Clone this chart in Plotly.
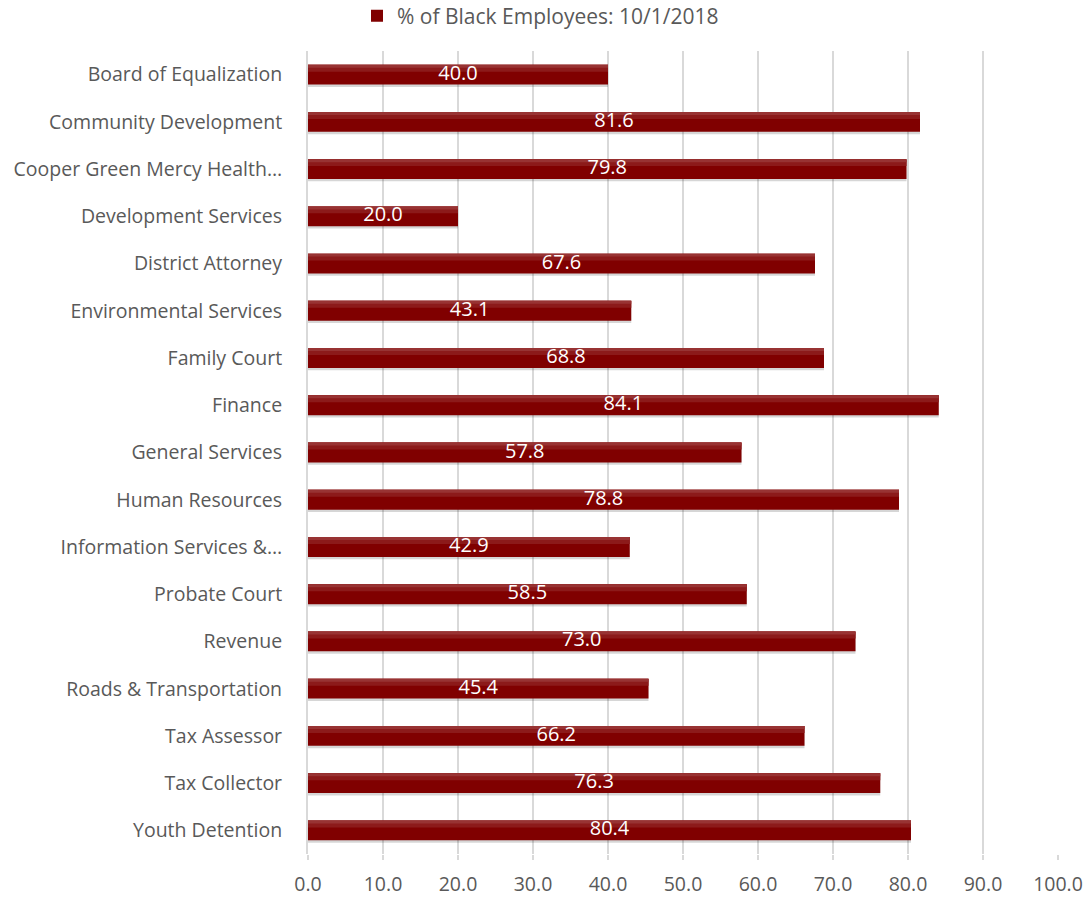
import plotly.graph_objects as go

categories = ["Board of Equalization", "Community Development", "Cooper Green Mercy Health…",
              "Development Services", "District Attorney", "Environmental Services",
              "Family Court", "Finance", "General Services", "Human Resources",
              "Information Services &…", "Probate Court", "Revenue",
              "Roads & Transportation", "Tax Assessor", "Tax Collector", "Youth Detention"]
values = [40.0, 81.6, 79.8, 20.0, 67.6, 43.1, 68.8, 84.1, 57.8, 78.8,
          42.9, 58.5, 73.0, 45.4, 66.2, 76.3, 80.4]
series_name = "% of Black Employees: 10/1/2018"
x_ticks = [0, 10, 20, 30, 40, 50, 60, 70, 80, 90, 100]

FONT = "Open Sans"
GREY = "#595959"
BW = 0.42

fig = go.Figure()
# soft shadow
fig.add_trace(go.Bar(
    y=categories, x=values, orientation="h", showlegend=False, hoverinfo="skip",
    marker=dict(color="rgba(0,0,0,0.16)", line=dict(width=0)),
    width=BW, offset=-BW / 2 + 0.05,
))
# main bar
fig.add_trace(go.Bar(
    y=categories, x=values, orientation="h", name=series_name,
    marker=dict(color="#800000", line=dict(width=0)),
    width=BW, offset=-BW / 2, showlegend=True,
))
# lighter top sheen
fig.add_trace(go.Bar(
    y=categories, x=values, orientation="h", showlegend=False, hoverinfo="skip",
    marker=dict(color="#8c1a1a", line=dict(width=0)),
    width=BW * 0.35, offset=-BW / 2,
))
fig.add_trace(go.Bar(
    y=categories, x=values, orientation="h", showlegend=False, hoverinfo="skip",
    marker=dict(color="#983333", line=dict(width=0)),
    width=BW * 0.15, offset=-BW / 2,
))
# value labels
fig.add_trace(go.Scatter(
    y=categories, x=[v / 2 for v in values], mode="text", showlegend=False,
    text=[f"{v:.1f}" for v in values], textposition="middle center",
    textfont=dict(color="white", size=20, family=FONT), hoverinfo="skip",
))

n = len(categories)
fig.update_layout(
    width=1089, height=897,
    margin=dict(l=308, r=31, t=51, b=43),
    paper_bgcolor="white", plot_bgcolor="white",
    font=dict(family=FONT, color=GREY, size=20),
    showlegend=True,
    barmode="overlay",
    legend=dict(orientation="h", x=0.31, xanchor="center", y=0.982, yanchor="middle",
                yref="container", font=dict(size=21, color=GREY, family=FONT),
                itemwidth=30, tracegroupgap=0),
)
fig.update_xaxes(range=[0, 100], tickvals=x_ticks, tickformat=".1f",
                 showgrid=True, gridcolor="#d9d9d9", gridwidth=2,
                 ticks="outside", ticklen=5, tickcolor="#d9d9d9", tickwidth=2,
                 zeroline=False, showline=False, automargin=False,
                 ticklabelstandoff=8,
                 tickfont=dict(size=19.5, color=GREY, family=FONT))
fig.update_yaxes(range=[n - 0.5, -0.5], showgrid=False, ticks="",
                 showline=True, linecolor="#d9d9d9", linewidth=2,
                 ticklabelstandoff=20, automargin=False,
                 tickfont=dict(size=19.5, color=GREY, family=FONT))

fig.write_html("out.html")
